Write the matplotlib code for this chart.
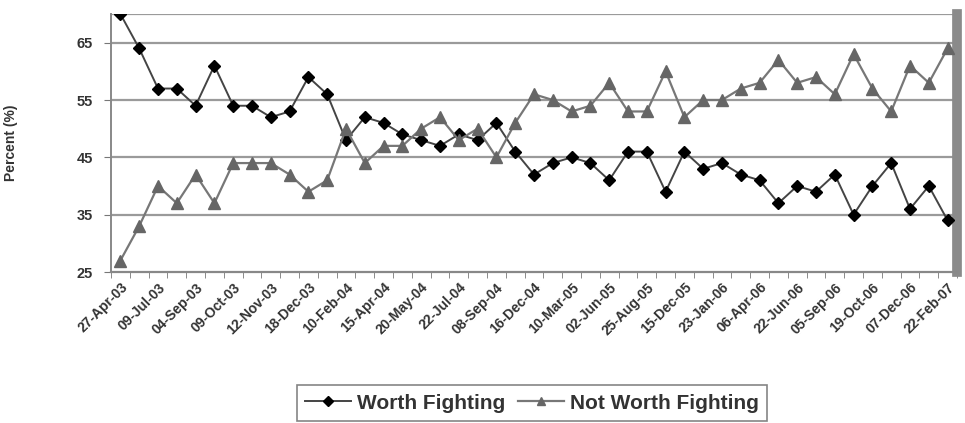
import numpy as np
import matplotlib
matplotlib.use("Agg")
import matplotlib.pyplot as plt

# poll dates shown on the axis (every other survey)
tick_labels = ['27-Apr-03', '09-Jul-03', '04-Sep-03', '09-Oct-03', '12-Nov-03',
               '18-Dec-03', '10-Feb-04', '15-Apr-04', '20-May-04', '22-Jul-04',
               '08-Sep-04', '16-Dec-04', '10-Mar-05', '02-Jun-05', '25-Aug-05',
               '15-Dec-05', '23-Jan-06', '06-Apr-06', '22-Jun-06', '05-Sep-06',
               '19-Oct-06', '07-Dec-06', '22-Feb-07']

worth = [70, 64, 57, 57, 54, 61, 54, 54, 52, 53, 59, 56, 48, 52, 51, 49, 48, 47,
         49, 48, 51, 46, 42, 44, 45, 44, 41, 46, 46, 39, 46, 43, 44, 42, 41, 37,
         40, 39, 42, 35, 40, 44, 36, 40, 34]
not_worth = [27, 33, 40, 37, 42, 37, 44, 44, 44, 42, 39, 41, 50, 44, 47, 47, 50,
             52, 48, 50, 45, 51, 56, 55, 53, 54, 58, 53, 53, 60, 52, 55, 55, 57,
             58, 62, 58, 59, 56, 63, 57, 53, 61, 58, 64]

plt.rcParams['font.family'] = ['Liberation Sans', 'DejaVu Sans']
plt.rcParams['font.weight'] = 'bold'

fig = plt.figure(figsize=(9.65, 4.23), dpi=100)
ax = fig.add_axes([111/965, 1-272/423, (957-111)/965, (272-14)/423])

x = np.arange(len(worth))
ax.plot(x, worth, color='#444444', lw=1.4, marker='D', ms=6.5,
        mfc='black', mec='black', label='Worth Fighting', zorder=3)
ax.plot(x, not_worth, color='#777777', lw=1.6, marker='^', ms=8,
        mfc='#666666', mec='#666666', label='Not Worth Fighting', zorder=3)

ax.set_xlim(-0.5, len(worth) - 0.5)
ax.set_ylim(25, 70)

# gridlines
for yv in [35, 45, 55, 65, 70]:
    ax.axhline(yv, color='#9a9a9a', lw=1.6, zorder=1)

ax.set_yticks([25, 35, 45, 55, 65])
ax.set_xticks(np.arange(-0.5, len(worth), 1), minor=True)
ax.set_xticks(np.arange(0, len(worth), 2))
ax.set_xticklabels(tick_labels, rotation=45, ha='right', rotation_mode='anchor',
                   fontsize=10, color='#333333', fontweight='bold')
ax.tick_params(axis='x', which='major', length=0, pad=6)
ax.tick_params(axis='x', which='minor', length=4, color='#777777', direction='out')
ax.tick_params(axis='y', length=5, color='#777777', labelsize=10.5,
               labelcolor='#333333', pad=8)

ax.spines['top'].set_visible(False)
ax.spines['left'].set_color('#888888')
ax.spines['left'].set_linewidth(1.4)
ax.spines['bottom'].set_color('#888888')
ax.spines['bottom'].set_linewidth(1.6)
ax.spines['right'].set_color('#8a8a8a')
ax.spines['right'].set_linewidth(7)

ax.set_ylabel('Percent (%)', fontsize=10, color='#333333', fontweight='bold',
              labelpad=42)

leg = ax.legend(loc='lower center', bbox_to_anchor=(532/965, 2/423),
                bbox_transform=fig.transFigure, ncol=2, frameon=True,
                fancybox=False, edgecolor='#666666', borderaxespad=0,
                prop={'size': 15, 'weight': 'bold'},
                handlelength=2.2, handletextpad=0.3, columnspacing=0.6,
                borderpad=0.4, markerscale=0.8)
leg.get_frame().set_linewidth(1.2)
for t in leg.get_texts():
    t.set_color('#333333')

fig.savefig('out.png', dpi=100)
